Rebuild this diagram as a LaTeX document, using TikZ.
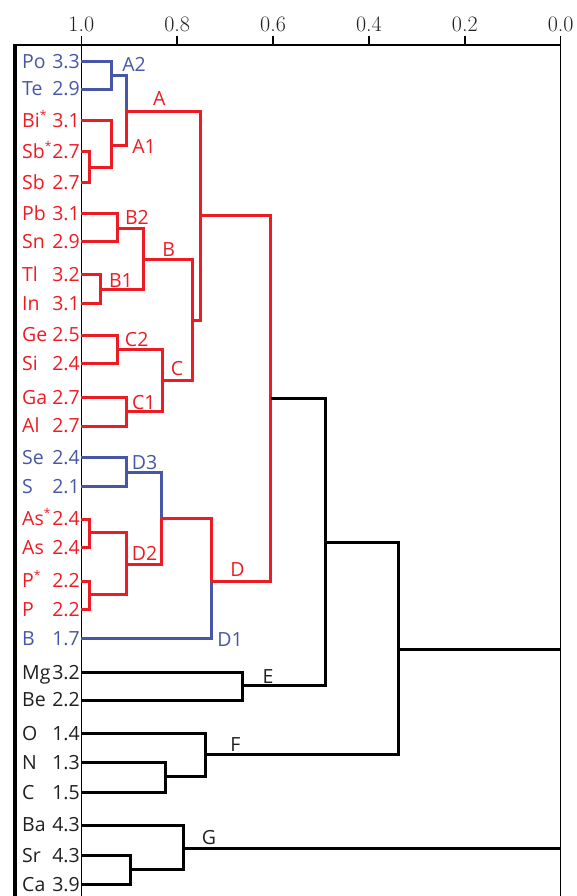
\documentclass[tikz,border=0pt]{standalone}
\usepackage{fontspec}
\newfontfamily\labfont{Open Sans}
\definecolor{cred}{RGB}{237,28,36}
\definecolor{cblue}{RGB}{72,86,167}
\definecolor{cdark}{RGB}{35,31,32}
\newcommand{\smallstar}{\raisebox{0.42em}{\fontsize{12}{12}\selectfont *}}
\tikzset{
  dend/.style={line width=3pt, line join=miter},
  redl/.style={dend, draw=cred},
  bluel/.style={dend, draw=cblue},
  blackl/.style={dend, draw=black},
  frameline/.style={line width=1.5pt, draw=black},
  lab/.style={font=\labfont\fontsize{19.5}{19.5}\selectfont, inner sep=0pt},
  ticklab/.style={font=\rmfamily\fontsize{22}{24}\selectfont, inner sep=0pt, text=cdark, anchor=base},
}
\begin{document}
\begin{tikzpicture}[x=1pt,y=-1pt]
\useasboundingbox (0,0) rectangle (577,896);
% frame and axis
\draw[line width=4pt] (15.3,44.25) -- (15.3,896);
\draw[frameline] (13.3,45) -- (560.7,45) -- (560.7,896);
\draw[frameline] (81.3,36) -- (81.3,896);
\foreach \k/\t in {0/1.0,1/0.8,2/0.6,3/0.4,4/0.2,5/0.0} {
  \draw[frameline] (81.3+95.88*\k,36) -- (81.3+95.88*\k,45);
  \node[ticklab] (tick\k) at (81.3+95.88*\k,31.7) {\t};
}
% leaves
\foreach \n/\y/\s/\v/\c in {
  Po/61.7/Po/3.3/cblue, Te/89.3/Te/2.9/cblue,
  Bi/121/{Bi\smallstar}/3.1/cred, Sbs/152/{Sb\smallstar}/2.7/cred, Sb/182.7/Sb/2.7/cred,
  Pb/213.3/Pb/3.1/cred, Sn/241.7/Sn/2.9/cred, Tl/274.3/Tl/3.2/cred, In/303.3/In/3.1/cred,
  Ge/335/Ge/2.5/cred, Si/363.3/Si/2.4/cred, Ga/397.7/Ga/2.7/cred, Al/426/Al/2.7/cred,
  Se/457.3/Se/2.4/cblue, S/486.7/S/2.1/cblue,
  Ass/519/{As\smallstar}/2.4/cred, As/547.3/As/2.4/cred,
  Ps/581/{P\smallstar}/2.2/cred, P/609.3/P/2.2/cred,
  B/638.3/B/1.7/cblue,
  Mg/672.3/Mg/3.2/cdark, Be/700/Be/2.2/cdark,
  O/733.3/O/1.4/cdark, N/762.7/N/1.3/cdark, C/792.3/C/1.5/cdark,
  Ba/825/Ba/4.3/cdark, Sr/855.7/Sr/4.3/cdark, Ca/884.3/Ca/3.9/cdark} {
  \coordinate (l-\n) at (81.3,\y);
  \node[lab,text=\c,anchor=base west] (s-\n) at (22,\y+6.7) {\s};
  \node[lab,text=\c,anchor=base east] (v-\n) at (80,\y+6.7) {\v};
}
% internal junctions
\coordinate (pt) at (111.7,76);
\coordinate (sb) at (89.3,167.7);
\coordinate (a1) at (111.7,146);
\coordinate (An) at (126,111.7);
\coordinate (b2) at (117.3,228.3);
\coordinate (b1) at (100.7,289.3);
\coordinate (Bn) at (143.3,259.3);
\coordinate (c2) at (117.3,349.3);
\coordinate (c1) at (126,411.7);
\coordinate (Cn) at (162.3,380);
\coordinate (BC) at (192.3,320);
\coordinate (ABC) at (200,215.3);
\coordinate (d3) at (126,472.3);
\coordinate (asas) at (89.3,532.3);
\coordinate (pp) at (89.3,594.3);
\coordinate (d2) at (126.7,564.3);
\coordinate (d23) at (161.7,518.3);
\coordinate (Dn) at (211.7,581.7);
\coordinate (ABCD) at (270.7,398.3);
\coordinate (En) at (242.3,685.7);
\coordinate (ABCDE) at (325.7,542);
\coordinate (nc) at (165,776.7);
\coordinate (Fn) at (205.7,754);
\coordinate (ABCDEF) at (398.3,649);
\coordinate (sc) at (130,869.3);
\coordinate (Gn) at (183.5,848.3);
\coordinate (root) at (560.7,748);
% connectors
\foreach \a/\b in {l-Po/pt, l-Te/pt, pt/An, l-Se/d3, l-S/d3, d3/d23, l-B/Dn}
  \draw[bluel] (\a) -| (\b);
\foreach \a/\b in {l-Bi/a1, l-Sbs/sb, l-Sb/sb, sb/a1, a1/An, An/ABC,
  l-Pb/b2, l-Sn/b2, l-Tl/b1, l-In/b1, b2/Bn, b1/Bn, Bn/BC,
  l-Ge/c2, l-Si/c2, l-Ga/c1, l-Al/c1, c2/Cn, c1/Cn, Cn/BC, BC/ABC, ABC/ABCD,
  l-Ass/asas, l-As/asas, l-Ps/pp, l-P/pp, asas/d2, pp/d2, d2/d23, d23/Dn, Dn/ABCD}
  \draw[redl] (\a) -| (\b);
\foreach \a/\b in {ABCD/ABCDE, l-Mg/En, l-Be/En, En/ABCDE, ABCDE/ABCDEF,
  l-O/Fn, l-N/nc, l-C/nc, nc/Fn, Fn/ABCDEF, l-Ba/Gn, l-Sr/sc, l-Ca/sc, sc/Gn}
  \draw[blackl] (\a) -| (\b);
\draw[blackl] (ABCDEF) -- (ABCDEF -| root);
\draw[blackl] (Gn) -- (Gn -| root);
% cluster labels
\node[lab,text=cblue,anchor=base] (lA2) at (134,71.7) {A2};
\node[lab,text=cred,anchor=base] (lA) at (159.3,105.5) {A};
\node[lab,text=cred,anchor=base] (lA1) at (144,153.3) {A1};
\node[lab,text=cred,anchor=base] (lB2) at (137,224) {B2};
\node[lab,text=cred,anchor=base] (lB) at (168.7,256) {B};
\node[lab,text=cred,anchor=base] (lB1) at (121,287.3) {B1};
\node[lab,text=cred,anchor=base] (lC2) at (136.7,346.7) {C2};
\node[lab,text=cred,anchor=base] (lC) at (177,375) {C};
\node[lab,text=cred,anchor=base] (lC1) at (143.8,409.3) {C1};
\node[lab,text=cblue,anchor=base] (lD3) at (144.5,469.3) {D3};
\node[lab,text=cred,anchor=base] (lD2) at (144.5,560.7) {D2};
\node[lab,text=cred,anchor=base] (lD) at (237.5,576.7) {D};
\node[lab,text=cblue,anchor=base] (lD1) at (230,646.7) {D1};
\node[lab,text=cdark,anchor=base] (lE) at (268,683.3) {E};
\node[lab,text=cdark,anchor=base] (lF) at (235.5,751) {F};
\node[lab,text=cdark,anchor=base] (lG) at (209,844) {G};
\end{tikzpicture}
\end{document}
